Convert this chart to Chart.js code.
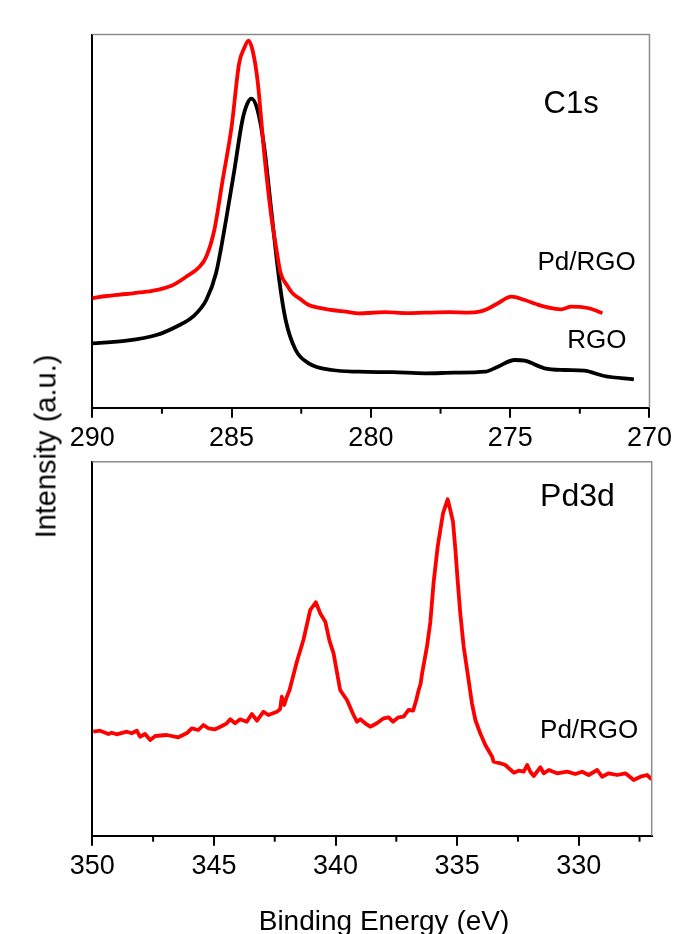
<!DOCTYPE html>
<html>
<head>
<meta charset="utf-8">
<script src="https://cdn.jsdelivr.net/npm/chart.js@4"></script>
<style>
  html, body { margin: 0; padding: 0; background: #fff; }
  #wrap { position: relative; width: 677px; height: 934px; overflow: hidden; }
  #c1 { position: absolute; left: 0; top: 0; }
  #c2 { position: absolute; left: 0; top: 455px; }
  #ytitle {
    position: absolute; left: -106.3px; top: 432.2px; width: 300px; height: 29px;
    line-height: 29px; text-align: center; white-space: nowrap; color: #000;
    font: 29px "Liberation Sans", Arial, sans-serif; transform: rotate(-90deg);
  }
</style>
</head>
<body>
<div id="wrap">
  <canvas id="c1" width="677" height="455"></canvas>
  <canvas id="c2" width="677" height="479"></canvas>
  <div id="ytitle">Intensity (a.u.)</div>
</div>
<script>
// ── DATA ── [binding energy (eV), intensity (a.u.)]
const c1sTicks = [290, 285, 280, 275, 270];
const c1sMinor = [287.5, 282.5, 277.5, 272.5];
const pd3dTicks = [350, 345, 340, 335, 330];
const pd3dMinor = [347.5, 342.5, 337.5, 332.5, 327.5];

const c1sPdRgo = [
  [290,109.7],[289.49,111.7],[288.77,113.7],[288.06,116],[287.58,118.4],[287.1,122.7],[286.63,131],
  [286.15,141],[285.91,151],[285.62,177.7],[285.32,227.7],[285.0,281],[284.73,344.4],[284.55,359.4],
  [284.39,367],[284.25,357.7],[284.07,327.7],[283.83,254.7],[283.59,194.7],[283.4,160],[283.24,134.7],
  [283.0,122],[282.82,114.7],[282.5,108],[282.23,102.7],[281.8,99.5],[281.4,97.7],[280.9,96],
  [280.44,94.4],[279.5,95.5],[278.7,94.5],[278.06,95],[277.2,95.5],[276.5,95],[276.1,96],[275.8,99],
  [275.44,104.4],[274.96,111],[274.48,107.7],[274.1,104],[273.77,101],[273.17,98.4],[272.81,101],
  [272.22,99.7],[271.9,97],[271.69,94.4]
];
const c1sRgo = [
  [290,64.4],[288.77,67],[287.7,72.7],[286.99,81],[286.39,91],[285.91,107.7],[285.56,134.4],
  [285.2,187.7],[284.9,237.7],[284.61,287.7],[284.43,304.4],[284.29,309],[284.07,297.7],[283.83,261],
  [283.59,201],[283.29,127.7],[283.06,87.7],[282.7,57.7],[282.23,44.4],[281.39,37.7],[280.44,36],
  [279.2,35.5],[278.06,34.4],[277,35],[275.9,36],[275.44,41],[274.84,47.7],[274.48,47],[273.77,39.4],
  [273.05,37.7],[272.34,37],[271.63,31.7],[270.56,28.4]
];
const pd3dPdRgo = [
  [349.96,104],[349.68,105],[349.34,101.7],[349.2,103],[349.0,101.4],[348.58,104],[348.38,102.4],
  [348.17,105],[348.04,99],[347.83,101.7],[347.62,95.7],[347.41,99.7],[346.94,100.7],[346.46,98.4],
  [346.12,102.4],[345.91,107.4],[345.64,105.7],[345.43,110.7],[345.23,107.4],[344.95,106.4],
  [344.67,109.7],[344.47,112.4],[344.33,116.4],[344.13,112.4],[343.92,116.4],[343.65,114],
  [343.44,121.7],[343.23,115],[342.96,124],[342.76,120.7],[342.41,124],[342.28,126.4],[342.21,139],
  [342.11,130.7],[342.0,139],[341.89,145.7],[341.59,174],[341.32,195.7],[341.04,225.7],[340.81,233.4],
  [340.62,222],[340.42,214],[340.25,195],[340.08,182.4],[339.81,145.7],[339.53,135.7],[339.26,120.7],
  [339.12,114],[338.98,116.4],[338.78,112.4],[338.57,109],[338.3,112.4],[338.02,117.4],[337.82,118.4],
  [337.64,114],[337.41,118.4],[337.2,119],[337.0,125.7],[336.81,125],[336.68,135.7],[336.58,145.7],
  [336.5,152],[336.44,162.4],[336.24,189],[336.1,214],[335.97,252.4],[335.8,289],[335.69,305.7],
  [335.58,322.4],[335.39,336.4],[335.28,325.7],[335.17,314],[335.07,285.7],[334.98,255.7],
  [334.87,222.4],[334.73,189],[334.57,162.4],[334.39,132.4],[334.25,115.7],[334.05,102.4],
  [333.84,90.7],[333.56,79],[333.5,74],[333.22,72.4],[333.02,70.7],[332.67,63],[332.47,65],
  [332.26,64],[332.12,70.7],[331.99,64],[331.85,59.7],[331.58,68.4],[331.44,62.4],[331.23,65.7],
  [330.89,62.4],[330.48,64],[330.14,61.7],[329.86,64],[329.59,60.7],[329.24,65.7],[329.04,59],
  [328.77,62.4],[328.42,60.7],[328.08,62.4],[327.74,55.7],[327.46,59],[327.19,60.7],[327.0,56.4]
];

const FONT = '"Liberation Sans", Arial, sans-serif';
Chart.defaults.font.family = FONT;
Chart.defaults.color = '#000';

// ── FRAME, MINOR TICKS, LABELS ──
const frame = {
  id: 'frame',
  afterDraw(chart, args, o) {
    const { ctx, chartArea: a, scales: { x, y } } = chart;
    ctx.save();
    ctx.strokeStyle = '#8c8c8c';
    ctx.lineWidth = 1.5;
    ctx.beginPath();
    ctx.moveTo(a.left, a.top);
    ctx.lineTo(a.right, a.top);
    ctx.lineTo(a.right, a.bottom);
    ctx.stroke();

    ctx.strokeStyle = '#000';
    ctx.lineWidth = 2;
    o.minor.forEach(v => {
      const px = x.getPixelForValue(v);
      ctx.beginPath();
      ctx.moveTo(px, a.bottom);
      ctx.lineTo(px, a.bottom + 6);
      ctx.stroke();
    });

    ctx.fillStyle = '#000';
    ctx.textBaseline = 'alphabetic';
    ctx.textAlign = 'left';
    o.labels.forEach(l => {
      ctx.font = l.size + 'px ' + FONT;
      ctx.fillText(l.text, x.getPixelForValue(l.x), y.getPixelForValue(l.y));
    });

    if (o.title) {
      ctx.font = '28px ' + FONT;
      ctx.textAlign = 'center';
      ctx.fillText(o.title, (a.left + a.right) / 2 + 12, a.bottom + 94);
    }
    ctx.restore();
  }
};

function makeChart(id, cfg) {
  return new Chart(document.getElementById(id), {
    type: 'scatter',
    data: {
      datasets: cfg.series.map(s => ({
        data: s.data.map(([x, y]) => ({ x, y })),
        showLine: true,
        borderColor: s.color,
        borderWidth: 3.8,
        borderJoinStyle: 'round',
        pointRadius: 0,
        cubicInterpolationMode: cfg.smooth ? 'monotone' : 'default',
        tension: 0
      }))
    },
    options: {
      responsive: false,
      animation: false,
      events: [],
      layout: { padding: { top: cfg.top, right: 25.3, left: 0, bottom: 0 } },
      plugins: {
        legend: { display: false },
        tooltip: { enabled: false },
        frame: { minor: cfg.minor, labels: cfg.labels, title: cfg.title }
      },
      scales: {
        x: {
          type: 'linear', min: cfg.min, max: cfg.max, reverse: true,
          afterBuildTicks: s => { s.ticks = cfg.ticks.map(v => ({ value: v })); },
          afterFit: s => { s.height = cfg.xh; },
          ticks: { font: { size: 27 }, padding: 5, maxRotation: 0, autoSkip: false, color: '#000' },
          grid: { drawOnChartArea: false, drawTicks: true, tickLength: 10, color: '#000', lineWidth: 2 },
          border: { color: '#000', width: 2 }
        },
        y: {
          min: 0, max: cfg.ymax,
          afterFit: s => { s.width = 92.3; },
          ticks: { display: false },
          grid: { display: false },
          border: { color: '#000', width: 2 }
        }
      }
    },
    plugins: [frame]
  });
}

// Panel 1 — C1s
makeChart('c1', {
  series: [{ data: c1sPdRgo, color: '#ff0000' }, { data: c1sRgo, color: '#000000' }],
  min: 270, max: 290, ticks: c1sTicks, minor: c1sMinor, smooth: true,
  top: 34.5, xh: 47.3, ymax: 373.2,
  labels: [
    { text: 'C1s', x: 273.8, y: 294.7, size: 31 },
    { text: 'Pd/RGO', x: 274.02, y: 137.7, size: 26 },
    { text: 'RGO', x: 272.95, y: 59.4, size: 26 }
  ]
});

// Panel 2 — Pd3d
makeChart('c2', {
  series: [{ data: pd3dPdRgo, color: '#ff0000' }],
  min: 327, max: 350, ticks: pd3dTicks, minor: pd3dMinor, smooth: false,
  top: 6.7, xh: 98.3, ymax: 374,
  labels: [
    { text: 'Pd3d', x: 331.59, y: 330, size: 32 },
    { text: 'Pd/RGO', x: 331.59, y: 97.4, size: 26 }
  ],
  title: 'Binding Energy (eV)'
});
</script>
</body>
</html>
